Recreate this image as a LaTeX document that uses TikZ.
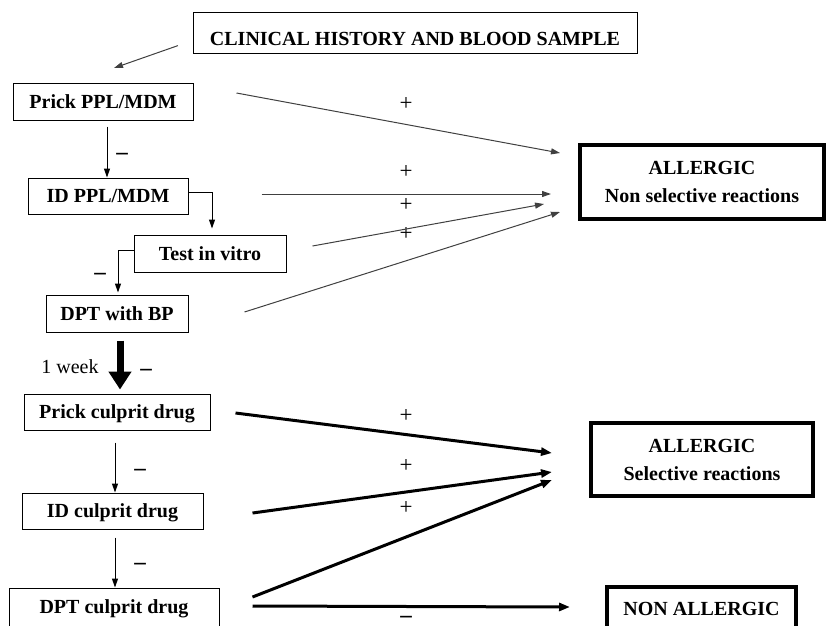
\documentclass[tikz,border=0pt]{standalone}
\usepackage{fontspec}
\setmainfont{Liberation Serif}
\usetikzlibrary{arrows.meta}

\begin{document}
\begin{tikzpicture}[x=1pt,y=-1pt,
    every node/.style={font=\fontsize{20}{28}\selectfont},
    test/.style={draw,line width=1pt,inner sep=0pt,text height=13.5pt,text depth=0pt,
        font=\fontsize{20}{28}\selectfont\bfseries},
    result/.style={draw,line width=4pt,inner sep=0pt,align=center,
        font=\fontsize{20}{28}\selectfont\bfseries},
    possign/.style={font=\fontsize{23}{24}\selectfont},
    negsign/.style={inner sep=0pt,font=\fontsize{23}{24}\selectfont\bfseries},
    down/.style={-{Triangle[length=9pt,width=6pt]},line width=1pt},
    link/.style={-{Triangle[length=9pt,width=6pt]},line width=1pt,black!75},
    boldlink/.style={-{Triangle[length=11pt,width=8pt]},line width=3pt}]
\useasboundingbox (0,0) rectangle (829,625);
\clip (0,0) rectangle (829,625);
\draw
    (415,32.5)  node[test,minimum width=444pt,minimum height=41pt,text height=25.5pt] (hist) {CLINICAL HISTORY AND BLOOD SAMPLE}
    (103,101.5) node[test,minimum width=180pt,minimum height=37pt] (ppl) {Prick PPL/MDM}
    (108,196)   node[test,minimum width=160pt,minimum height=36pt] (idp) {ID PPL/MDM}
    (210,253.5) node[test,minimum width=152pt,minimum height=37pt] (vitro) {Test in vitro}
    (117,313.5) node[test,minimum width=142pt,minimum height=37pt] (dbp) {DPT with BP}
    (117,412)   node[test,minimum width=186pt,minimum height=36pt] (pcd) {Prick culprit drug}
    (112.5,511) node[test,minimum width=181pt,minimum height=36pt] (icd) {ID culprit drug}
    (114,607)   node[test,minimum width=210pt,minimum height=38pt] (dcd) {DPT culprit drug}
    (702,182)   node[result,minimum width=244pt,minimum height=74pt] (nsel) {ALLERGIC\\Non selective reactions}
    (702,459.5) node[result,minimum width=222pt,minimum height=73pt] (sel) {ALLERGIC\\Selective reactions}
    (701.5,609) node[result,minimum width=189pt,minimum height=44pt,text height=13.5pt,text depth=0pt] (nall) {NON ALLERGIC};
% signs
\draw
    (406,104) node[possign] (p1) {+}
    (406,172) node[possign] (p2) {+}
    (406,205) node[possign] (p3) {+}
    (406,234) node[possign] (p4) {+}
    (406,416) node[possign] (p5) {+}
    (406,466) node[possign] (p6) {+}
    (406,508) node[possign] (p7) {+}
    (122,156) node[negsign] (m1) {\textendash}
    (100,276) node[negsign] (m2) {\textendash}
    (146,372) node[negsign] (m3) {\textendash}
    (140,472) node[negsign] (m4) {\textendash}
    (140,566) node[negsign] (m5) {\textendash}
    (406,619) node[negsign] (m6) {\textendash}
    (70,367)  node (wk) {1 week};
\coordinate (aim) at (114,68);
% left column
\draw[link,shorten <=15.5pt] ([yshift=-8pt]hist.west) -- (aim);
\draw[down] ([xshift=4pt,yshift=-6pt]ppl.south) -- ([xshift=-1pt]idp.north);
\draw[down] ([yshift=4pt]idp.east) -| ([xshift=2pt,yshift=6pt]vitro.north);
\draw[down] ([yshift=3.5pt]vitro.west) -| ([xshift=1pt,yshift=2pt]dbp.north);
\draw[line width=7pt,-{Triangle[length=18pt,width=22pt]}] ([xshift=3pt,yshift=-8pt]dbp.south) -- ([xshift=3pt,yshift=4pt]pcd.north);
\draw[down] ([xshift=-2pt,yshift=-12pt]pcd.south) -- ([xshift=2.5pt]icd.north);
\draw[down] ([xshift=2.5pt,yshift=-8pt]icd.south) -- ([xshift=1pt]dcd.north);
% to results
\draw[link] ([shift={(43pt,8.5pt)}]ppl.east) -- ([shift={(-18pt,29pt)}]nsel.west);
\draw[link] ([shift={(73pt,2pt)}]idp.east) -- ([shift={(-27pt,-12pt)}]nsel.west);
\draw[link] ([shift={(26pt,7.5pt)}]vitro.east) -- ([shift={(-34pt,-22pt)}]nsel.west);
\draw[link] ([shift={(56pt,1.5pt)}]dbp.east) -- ([shift={(-18pt,-30pt)}]nsel.west);
\draw[boldlink] ([shift={(25pt,-1pt)}]pcd.east) -- ([shift={(-37pt,6.5pt)}]sel.west);
\draw[boldlink] ([shift={(49pt,-2pt)}]icd.east) -- ([shift={(-37pt,-12.5pt)}]sel.west);
\draw[boldlink] ([shift={(33pt,10pt)}]dcd.east) -- ([shift={(-37pt,-20.5pt)}]sel.west);
\draw[boldlink] ([shift={(33pt,1pt)}]dcd.east) -- ([shift={(-35pt,2pt)}]nall.west);
\end{tikzpicture}
\end{document}
